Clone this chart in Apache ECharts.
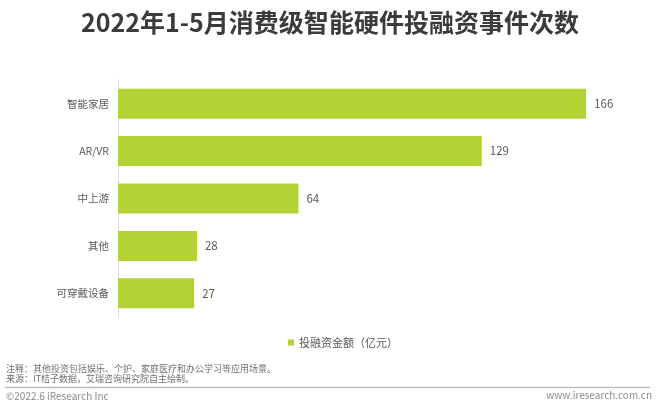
<!DOCTYPE html>
<html><head><meta charset="utf-8">
<script src="https://cdn.jsdelivr.net/npm/echarts@6/dist/echarts.min.js"></script>
<style>html,body{margin:0;padding:0;background:#fff}#c{width:660px;height:409px}</style>
</head><body><div id="c"></div>
<script>
const categories = ['智能家居', 'AR/VR', '中上游', '其他', '可穿戴设备'];
const values = [166, 129, 64, 28, 27];
const seriesName = '投融资金额（亿元）';
const titleText = '2022年1-5月消费级智能硬件投融资事件次数';
const noteText = '注释：其他投资包括娱乐、个护、家庭医疗和办公学习等应用场景。';
const sourceText = '来源：IT桔子数据，艾瑞咨询研究院自主绘制。';
const FONT = '"Noto Sans CJK SC", "Noto Sans", sans-serif';
const chart = echarts.init(document.getElementById('c'), null, {renderer: 'canvas'});
chart.setOption({
  animation: false,
  backgroundColor: '#fff',
  title: {text: titleText, left: 'center', top: 5,
    textStyle: {fontFamily: FONT, fontSize: 25, fontWeight: 'bold', color: '#3b3b3b'}},
  legend: {data: [seriesName], left: 283, top: 332, icon: 'rect', itemWidth: 6, itemHeight: 6, itemGap: 4,
    textStyle: {fontFamily: FONT, fontSize: 11, color: '#595959'}},
  grid: {left: 118, top: 80, width: 507.6, height: 237, containLabel: false},
  xAxis: {type: 'value', min: 0, max: 180, show: false},
  yAxis: {type: 'category', data: categories, inverse: true,
    axisLine: {show: true, lineStyle: {color: '#d9d9d9', width: 1}},
    axisTick: {show: false},
    axisLabel: {fontFamily: FONT, fontSize: 10.5, color: '#595959', margin: 9}},
  series: [{name: seriesName, type: 'bar', data: values, barWidth: 30,
    itemStyle: {color: '#b3d234'},
    label: {show: true, position: 'right', distance: 8, fontFamily: FONT, fontSize: 11.5, color: '#595959'}}],
  graphic: [
    {type: 'text', left: 6, top: 364, style: {text: noteText, font: '9px ' + FONT, fill: '#6f6f6f'}},
    {type: 'text', left: 6, top: 374, style: {text: sourceText, font: '9px ' + FONT, fill: '#6f6f6f'}},
    {type: 'line', shape: {x1: 5, y1: 387.5, x2: 650, y2: 387.5}, style: {stroke: '#bfbfbf', lineWidth: 1.5}},
    {type: 'text', left: 6, top: 391, style: {text: '©2022.6 iResearch Inc', font: '10px ' + FONT, fill: '#8c8c8c'}},
    {type: 'text', right: 8, top: 390, style: {text: 'www.iresearch.com.cn', font: '10px ' + FONT, fill: '#8c8c8c'}}
  ]
});
</script></body></html>
